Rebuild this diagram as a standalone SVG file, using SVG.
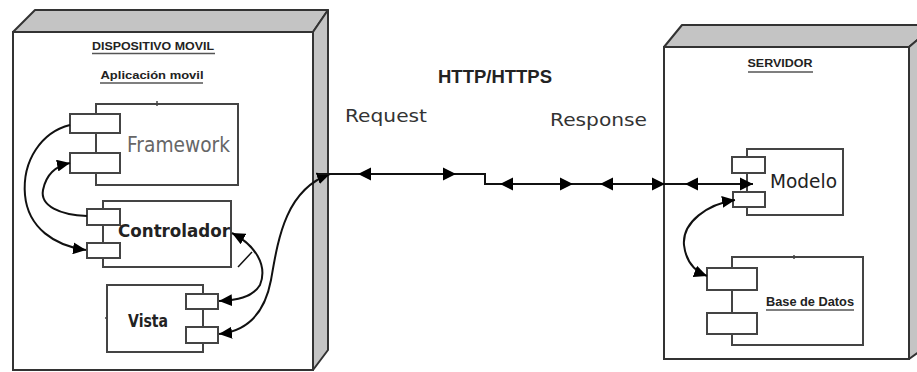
<svg xmlns="http://www.w3.org/2000/svg" width="917" height="372" viewBox="0 0 917 372">
<style>
.face{fill:#fff;stroke:#333;stroke-width:2}
.shade{fill:#c4c4c4;stroke:#333;stroke-width:2;stroke-linejoin:round}
.comp{fill:#fff;stroke:#444;stroke-width:2}
.port{fill:#fff;stroke:#444;stroke-width:2}
.lbl{font-family:"Liberation Sans",Arial,sans-serif;font-weight:bold;font-size:11px;fill:#222}
.ul{stroke:#555;stroke-width:1.5}
.big{font-family:"DejaVu Sans",sans-serif;font-size:19px;fill:#1a1a1a}
.txt{font-family:"DejaVu Sans",sans-serif;font-size:18px;fill:#333}
.con{fill:none;stroke:#111;stroke-width:2}
</style>
<defs>
<marker id="ar" viewBox="0 0 13 12" refX="13" refY="6" markerWidth="13" markerHeight="12" markerUnits="userSpaceOnUse" orient="auto-start-reverse">
<path d="M0,0 L13,6 L0,12 Z" fill="#000"/>
</marker>
<path id="ah" d="M0,0 L-13,-6.5 L-13,6.5 Z" fill="#000"/>
</defs>

<g id="dispositivo">
<polygon class="shade" points="13,32 35,10 328,10 313,32"/>
<polygon class="shade" points="313,32 328,10 328,350 313,370"/>
<rect class="face" x="13" y="32" width="300" height="338"/>
<text class="lbl" x="153" y="50" text-anchor="middle" textLength="122" lengthAdjust="spacingAndGlyphs">DISPOSITIVO MOVIL</text>
<line class="ul" x1="92" y1="53.5" x2="215" y2="53.5"/>
<text class="lbl" x="152" y="79" text-anchor="middle" textLength="103" lengthAdjust="spacingAndGlyphs">Aplicación movil</text>
<line class="ul" x1="100" y1="83" x2="203" y2="83"/>
</g>

<g id="framework">
<rect class="comp" x="96" y="104" width="142" height="81"/>
<line x1="157" y1="101" x2="157" y2="106" stroke="#444" stroke-width="1.5"/>
<rect class="port" x="70" y="114" width="50" height="19"/>
<rect class="port" x="70" y="153" width="50" height="20"/>
<text class="big" x="127" y="152" textLength="103" lengthAdjust="spacingAndGlyphs" style="fill:#666;font-size:21px">Framework</text>
</g>

<g id="controlador">
<rect class="comp" x="103" y="201" width="128" height="66"/>
<rect class="port" x="87" y="209" width="33" height="16"/>
<rect class="port" x="87" y="243" width="33" height="15"/>
<text class="big" x="118" y="237" textLength="112" lengthAdjust="spacingAndGlyphs" style="font-weight:bold;font-size:18px;fill:#222">Controlador</text>
</g>

<g id="vista">
<rect class="comp" x="107" y="285" width="96" height="67"/>
<line x1="105" y1="318" x2="108" y2="318" stroke="#444" stroke-width="1.5"/>
<rect class="port" x="186" y="294" width="32" height="15"/>
<rect class="port" x="186" y="327" width="32" height="16"/>
<text class="big" x="128" y="327" textLength="40" lengthAdjust="spacingAndGlyphs" style="font-weight:bold;font-size:18px;fill:#222">Vista</text>
</g>

<g id="servidor">
<polygon class="shade" points="664,47 682,25 935,25 909,47"/>
<polygon class="shade" points="909,47 935,25 935,340 909,359"/>
<rect class="face" x="664" y="47" width="245" height="312"/>
<text class="lbl" x="780" y="67" text-anchor="middle" textLength="65" lengthAdjust="spacingAndGlyphs">SERVIDOR</text>
<line class="ul" x1="748" y1="72" x2="813" y2="72"/>
</g>

<g id="modelo">
<rect class="comp" x="747" y="149" width="96" height="66"/>
<rect class="port" x="732" y="157" width="33" height="16"/>
<rect class="port" x="733" y="192" width="32" height="15"/>
<text class="big" x="770" y="188" textLength="67" lengthAdjust="spacingAndGlyphs" style="font-size:19px;fill:#222">Modelo</text>
</g>

<g id="basedatos">
<rect class="comp" x="732" y="257" width="131" height="88"/>
<line x1="794" y1="255" x2="794" y2="259" stroke="#444" stroke-width="1.5"/>
<rect class="port" x="707" y="268" width="50" height="22"/>
<rect class="port" x="707" y="313" width="50" height="21"/>
<text class="lbl" x="766" y="306" textLength="88" lengthAdjust="spacingAndGlyphs" style="font-size:12px">Base de Datos</text>
<line class="ul" x1="766" y1="310" x2="854" y2="310"/>
</g>

<g id="labels">
<text x="495" y="83" text-anchor="middle" textLength="114" lengthAdjust="spacingAndGlyphs" style="font-family:'Liberation Sans',Arial,sans-serif;font-weight:bold;font-size:19px;fill:#222">HTTP/HTTPS</text>
<text class="txt" x="345" y="122" textLength="82" lengthAdjust="spacingAndGlyphs">Request</text>
<text class="txt" x="550" y="126" textLength="97" lengthAdjust="spacingAndGlyphs">Response</text>
</g>

<g id="connectors">
<path class="con" d="M70,125 C42,132 22,160 25,195 C28,228 55,246 86,250" marker-end="url(#ar)"/>
<path class="con" d="M87,216 C60,215 40,206 43,190 C46,175 55,166 70,163" marker-end="url(#ar)"/>
<path class="con" d="M232,233 C255,245 268,265 260,285 C252,298 236,300 219,301" marker-start="url(#ar)" marker-end="url(#ar)"/>
<path class="con" d="M219,334 C248,331 265,312 271,280 C278,240 285,190 330,174" marker-start="url(#ar)" marker-end="url(#ar)"/>
<line x1="238" y1="267" x2="252" y2="252" stroke="#111" stroke-width="1.5"/>
<path class="con" d="M318,174 H485 V184 H753"/>
<use href="#ah" transform="translate(358,174) rotate(180)"/>
<use href="#ah" transform="translate(456,174)"/>
<use href="#ah" transform="translate(500,184) rotate(180)"/>
<use href="#ah" transform="translate(573,184)"/>
<use href="#ah" transform="translate(600,184) rotate(180)"/>
<use href="#ah" transform="translate(665,184)"/>
<use href="#ah" transform="translate(685,184) rotate(180)"/>
<use href="#ah" transform="translate(753,184)"/>
<path class="con" d="M735,200 C708,204 682,222 684,245 C686,262 694,271 707,276" marker-start="url(#ar)" marker-end="url(#ar)"/>
</g>
</svg>
